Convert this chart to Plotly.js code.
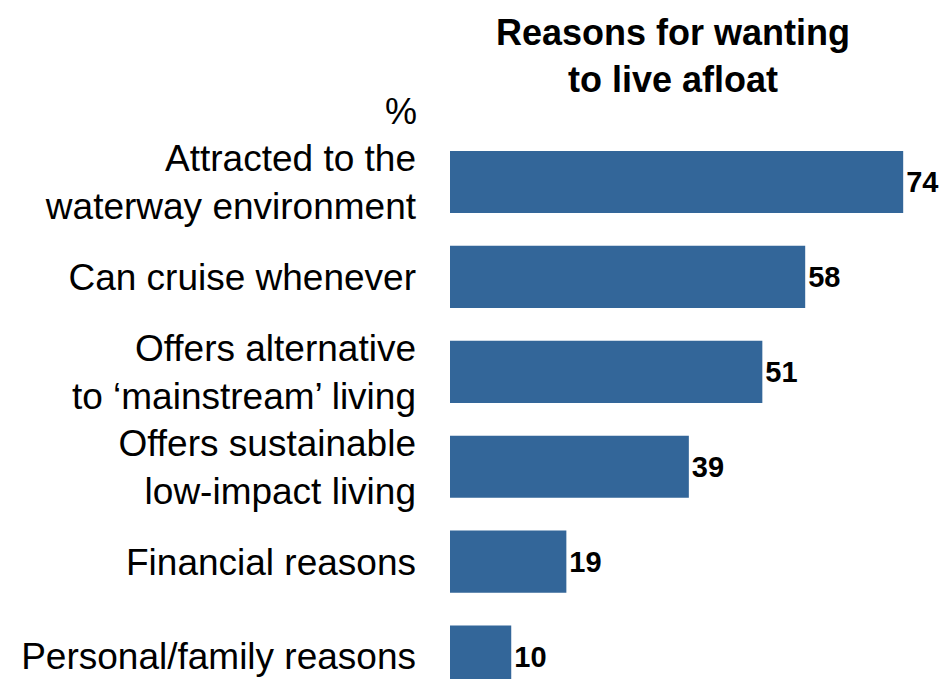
<!DOCTYPE html>
<html>
<head>
<meta charset="utf-8">
<script src="https://cdn.plot.ly/plotly-3.0.1.min.js"></script>
<style>html,body{margin:0;padding:0;background:#fff;}#chart{width:943px;height:679px;}</style>
</head>
<body>
<div id="chart"></div>
<script>
const categories = [
  "Attracted to the<br>waterway environment",
  "Can cruise whenever",
  "Offers alternative<br>to ‘mainstream’ living",
  "Offers sustainable<br>low-impact living",
  "Financial reasons",
  "Personal/family reasons"
];
const values = [74, 58, 51, 39, 19, 10];
const titleText = "Reasons for wanting<br>to live afloat";
const unitLabel = "%";

const FONT = "Liberation Sans, Arial, Helvetica, sans-serif";

const trace = {
  type: "bar",
  orientation: "h",
  x: values,
  y: categories,
  marker: {color: "#336699"},
  text: values.map(String),
  textposition: "outside",
  textfont: {family: FONT, size: 29, color: "#000", weight: "bold"},
  cliponaxis: false,
  hoverinfo: "none"
};

const layout = {
  width: 943,
  height: 679,
  margin: {l: 450, r: 0, t: 130, b: 0, pad: 0},
  paper_bgcolor: "#fff",
  plot_bgcolor: "#fff",
  bargap: 0.345,
  showlegend: false,
  font: {family: FONT, color: "#000"},
  xaxis: {
    range: [0, 80.5],
    visible: false,
    showgrid: false,
    zeroline: false,
    fixedrange: true
  },
  yaxis: {
    type: "category",
    categoryorder: "array",
    categoryarray: categories,
    range: [5.237, -0.548],
    showgrid: false,
    zeroline: false,
    showline: false,
    ticks: "",
    ticklabelstandoff: 33,
    tickfont: {family: FONT, size: 37, color: "#000"},
    fixedrange: true
  },
  annotations: [
    {
      text: titleText,
      xref: "paper", yref: "paper",
      x: (673 - 450) / 493, y: 1 + (130 - 10) / 549,
      xanchor: "center", yanchor: "top",
      align: "center",
      showarrow: false,
      font: {family: FONT, size: 36, color: "#000", weight: "bold"}
    },
    {
      text: unitLabel,
      xref: "paper", yref: "paper",
      x: (419 - 450) / 493, y: 1 + (130 - 112) / 549,
      xanchor: "right", yanchor: "middle",
      showarrow: false,
      font: {family: FONT, size: 36, color: "#000"}
    }
  ]
};

Plotly.newPlot("chart", [trace], layout, {displayModeBar: false, staticPlot: true});
</script>
</body>
</html>
